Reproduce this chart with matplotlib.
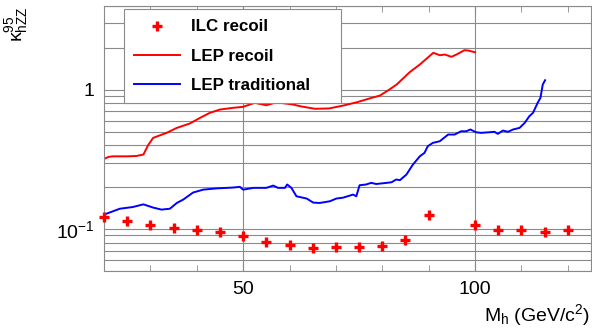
import matplotlib
matplotlib.use("Agg")
import matplotlib.pyplot as plt
from matplotlib.ticker import FixedLocator, FixedFormatter, LogLocator, NullFormatter, MultipleLocator

plt.rcParams['font.family'] = ['Liberation Sans', 'DejaVu Sans']
plt.rcParams['mathtext.fontset'] = 'custom'
plt.rcParams['mathtext.rm'] = 'Liberation Sans'
plt.rcParams['mathtext.it'] = 'Liberation Sans'
plt.rcParams['mathtext.default'] = 'regular'

# ILC recoil-mass sensitivity points
ilc_mass = [20, 25, 30, 35, 40, 45, 50, 55, 60, 65, 70, 75, 80, 85, 90,
            100, 105, 110, 115, 120]
ilc_kappa = [0.1216, 0.1138, 0.1077, 0.1013, 0.0987, 0.0948, 0.0887, 0.0804,
             0.0774, 0.0736, 0.0748, 0.0748, 0.0752, 0.0831, 0.1265,
             0.1072, 0.0992, 0.0981, 0.0955, 0.0992]

# LEP recoil limit
lep_recoil_mass = [20, 21, 22, 25, 27, 28.5, 29.5, 30.6, 33.5, 35.7, 38.5, 40.7,
                   42.8, 45, 47.9, 50, 52.5, 55, 57.2, 60.8, 62.5, 65.5, 68.5,
                   71.5, 74.5, 77, 79.5, 81.3, 83.1, 85.9, 88.1, 91, 92.4, 93.5,
                   94.9, 96, 97.7, 98.5, 100]
lep_recoil_kappa = [0.319, 0.330, 0.333, 0.333, 0.335, 0.343, 0.40, 0.452, 0.491,
                    0.533, 0.573, 0.629, 0.683, 0.722, 0.743, 0.755, 0.807,
                    0.775, 0.814, 0.784, 0.76, 0.731, 0.735, 0.770, 0.814,
                    0.862, 0.910, 0.993, 1.092, 1.338, 1.52, 1.845, 1.773,
                    1.793, 1.726, 1.793, 1.925, 1.916, 1.862]

# LEP traditional (decay-mode) limit
lep_trad_mass = [20.0, 23.4, 26.2, 28.5, 30.6, 32.4, 34.2, 35.7, 37.1, 39.2, 41.4,
                 44.3, 47.8, 49.3, 50.0, 52.2, 55.0, 56.5, 57.5, 59.0, 59.5,
                 60.4, 61.5, 63.7, 65.1, 66.5, 68.7, 70.1, 71.5, 73.0, 73.7,
                 74.4, 75.1, 76.5, 77.6, 78.7, 80.9, 82.0, 83.0, 83.8, 85.2,
                 86.6, 88.1, 89.1, 89.8, 90.9, 92.4, 94.2, 95.6, 97.0, 98.1,
                 99.0, 100.2, 101.3, 103.1, 104.2, 104.9, 106.0, 107.1, 108.2,
                 109.6, 110.7, 111.7, 112.5, 113.5, 114.1, 114.6, 115.1]
lep_trad_kappa = [0.127, 0.140, 0.144, 0.1505, 0.1427, 0.138, 0.140, 0.154, 0.163,
                  0.183, 0.192, 0.196, 0.1987, 0.201, 0.192, 0.1977, 0.1977,
                  0.2054, 0.1977, 0.1977, 0.209, 0.1977, 0.172, 0.1657, 0.155,
                  0.154, 0.1584, 0.1657, 0.168, 0.174, 0.177, 0.172, 0.2064,
                  0.209, 0.2147, 0.2107, 0.2147, 0.2169, 0.227, 0.2245, 0.2463,
                  0.2905, 0.3334, 0.3527, 0.3935, 0.416, 0.4274, 0.4774, 0.4774,
                  0.504, 0.504, 0.519, 0.496, 0.491, 0.496, 0.4996, 0.483, 0.510,
                  0.4996, 0.519, 0.533, 0.579, 0.646, 0.684, 0.807, 0.876,
                  1.092, 1.172]

y_tick_values = [0.1, 1]
y_tick_labels = ['$10^{-1}$', '1']
x_major_ticks = [50, 100]

W, H = 592, 329
fig = plt.figure(figsize=(W / 100, H / 100), dpi=100)
left, right, top, bottom = 104, 591, 6, 271
ax = fig.add_axes([left / W, 1 - bottom / H, (right - left) / W, (bottom - top) / H])

grid_col = '#8a8a8a'
ax.set_yscale('log')
ax.set_xlim(20, 125)
ax.set_ylim(0.05, 4)

ax.yaxis.set_major_locator(FixedLocator(y_tick_values))
ax.yaxis.set_major_formatter(FixedFormatter(y_tick_labels))
ax.yaxis.set_minor_locator(LogLocator(base=10, subs=range(2, 10)))
ax.yaxis.set_minor_formatter(NullFormatter())
ax.xaxis.set_major_locator(FixedLocator(x_major_ticks))
ax.xaxis.set_minor_locator(MultipleLocator(10))

ax.grid(True, which='both', axis='y', color=grid_col, lw=0.8)
ax.grid(True, which='major', axis='x', color=grid_col, lw=0.8)
ax.set_axisbelow(True)

ax.tick_params(axis='x', which='both', direction='in', top=True, color=grid_col)
ax.tick_params(axis='x', which='major', length=6, pad=7, labelsize=14)
ax.tick_params(axis='x', which='minor', length=4)
ax.tick_params(axis='y', which='both', length=0, pad=7, labelsize=14)
for s in ax.spines.values():
    s.set_color(grid_col)
    s.set_linewidth(0.8)

ax.plot(lep_recoil_mass, lep_recoil_kappa, color='#ff0000', lw=1.4, label='LEP recoil')
ax.plot(lep_trad_mass, lep_trad_kappa, color='#0000ff', lw=1.4, label='LEP traditional')
ax.plot(ilc_mass, ilc_kappa, ls='none', marker='+', ms=7, mew=2.4,
        color='#ff0000', label='ILC recoil', clip_on=False, zorder=5)

handles, labels = ax.get_legend_handles_labels()
order = [2, 0, 1]
lx0, ly0, lx1, ly1 = 124.3, 9.3, 341, 101
leg = fig.legend([handles[i] for i in order], [labels[i] for i in order],
                 loc='upper left',
                 bbox_to_anchor=(lx0 / W, 1 - ly0 / H, (lx1 - lx0) / W, 0),
                 mode='expand', borderaxespad=0, fancybox=False,
                 edgecolor=grid_col, framealpha=1,
                 prop={'weight': 'bold', 'size': 12.2},
                 handlelength=2.7, handletextpad=0.65, labelspacing=0.85,
                 borderpad=0.6)
leg.get_frame().set_linewidth(0.8)

fig.text(590 / W, 1 - 321 / H, 'M$_h$ (GeV/c$^2$)', ha='right', va='baseline', fontsize=14)
fig.text(17 / W, 1 - 6 / H, r'$\kappa^{95}_{hZZ}$', rotation=90, ha='center', va='top',
         fontsize=14)

fig.savefig('out.png', dpi=100)
